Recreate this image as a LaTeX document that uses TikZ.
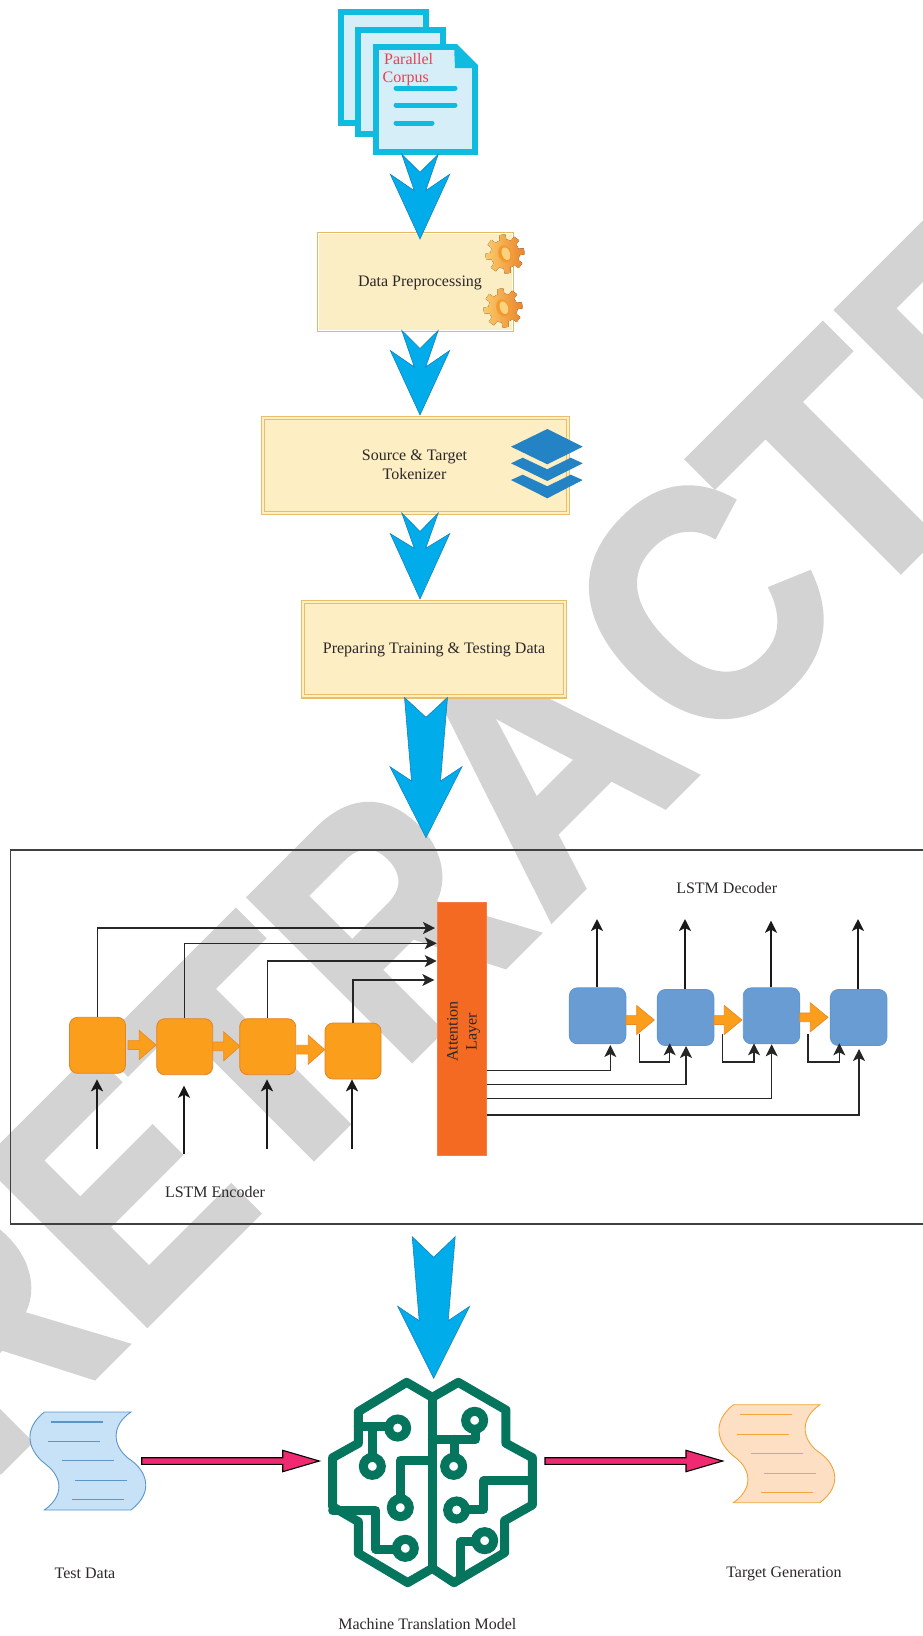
\documentclass[tikz,border=0pt]{standalone}
\usepackage{fontspec}
\setmainfont{Liberation Serif}
\newfontfamily\wmfont{Liberation Sans Bold}[FakeBold=2]
\usetikzlibrary{arrows.meta,calc,positioning}
\definecolor{wm}{HTML}{D3D3D3}
\definecolor{cy}{HTML}{0FBBDF}
\definecolor{cypale}{HTML}{D5EEF8}
\definecolor{blu}{HTML}{00ADEA}
\definecolor{blub}{HTML}{1481BE}
\definecolor{cream}{HTML}{FBEDC4}
\definecolor{creamd}{HTML}{FDEEC4}
\definecolor{creamb}{HTML}{E8BE68}
\definecolor{org}{HTML}{FA9E1C}
\definecolor{orgb}{HTML}{E0832B}
\definecolor{att}{HTML}{F56A22}
\definecolor{dec}{HTML}{6A9CD4}
\definecolor{decb}{HTML}{5E97D0}
\definecolor{grn}{HTML}{06755E}
\definecolor{pink}{HTML}{F02A72}
\definecolor{ink}{HTML}{2B2829}
\definecolor{lay}{HTML}{2483C5}
\definecolor{redt}{HTML}{EF3E52}
\definecolor{tfill}{HTML}{C7E2F6}
\definecolor{tline}{HTML}{5B96C8}
\definecolor{gfill}{HTML}{FDDFC3}
\definecolor{gline}{HTML}{F2A53B}
\definecolor{FBCB6B}{HTML}{FBCB6B}
\definecolor{EC842A}{HTML}{EC842A}
\definecolor{F39A2E}{HTML}{F39A2E}
\definecolor{FBD37F}{HTML}{FBD37F}
\tikzset{
  txt/.style={font=\fontsize{16}{19}\selectfont,text=ink,inner sep=0pt,align=center},
  bigarrow/.style={fill=blu,draw=blub,line width=.6pt,line join=miter},
  cellE/.style={draw=orgb,fill=org,line width=.8pt,rounded corners=8pt,minimum width=56pt,minimum height=56pt,inner sep=0pt},
  cellD/.style={draw=decb,fill=dec,line width=.8pt,rounded corners=8pt,minimum width=56.5pt,minimum height=56pt,inner sep=0pt},
  smallarrow/.style={fill=org,draw=orgb!70!org,line width=.7pt},
  thick arr/.style={draw=black!90,line width=2pt,-{Stealth[length=12pt,width=12pt,inset=3pt]}},
  thin arr/.style={draw=black!85,line width=1.1pt,-{Stealth[length=12pt,width=12pt,inset=3pt]}},
  pinkarrow/.style={fill=pink,draw=black,line width=1.1pt,line join=miter},
  boxd/.style={draw=creamb,line width=1.1pt,double=creamd,double distance=2pt,fill=creamd,inner sep=0pt},
  scrollline/.style={line width=1.4pt},
  brain/.style={draw=grn,line width=9pt,line join=round,line cap=round},
  page/.style={fill=cypale,draw=cy,line width=5.6pt,line join=miter},
  wmletter/.style={text=wm,inner sep=0pt,anchor=base west,font=\wmfont\fontsize{332}{332}\selectfont},
}
% watermark letter: name, position along the 45 degree baseline, x-scale, letter
\newcommand{\wmark}[4]{\node[wmletter,rotate=45,xscale=#3] (#1) at ({(1471+1.4142*(#2))/2},{(1471-1.4142*(#2))/2}) {#4};}
% swallow-tail block arrow
\newcommand{\swallow}[9]{% cx, ytop, ynotch, tailhalf, ypinch, pinchhalf, yhead, headhalf, ytip
  \draw[bigarrow] ({#1-#4},#2) -- (#1,#3) -- ({#1+#4},#2) -- ({#1+#6},#5) -- ({#1+#8},#7) -- (#1,#9) -- ({#1-#8},#7) -- ({#1-#6},#5) -- cycle;}
% small orange right arrow
\newcommand{\oarrow}[4]{% x0, xhead, x1, y
  \draw[smallarrow] (#1,{#4-4.4}) -- (#2,{#4-4.4}) -- (#2,{#4-14.5}) -- (#3,#4) -- (#2,{#4+14.5}) -- (#2,{#4+4.4}) -- (#1,{#4+4.4}) -- cycle;}
% pink right arrow
\newcommand{\parrow}[4]{%
  \draw[pinkarrow] (#1,{#4-3.3}) -- (#2,{#4-3.3}) -- (#2,{#4-10.7}) -- (#3,#4) -- (#2,{#4+10.7}) -- (#2,{#4+3.3}) -- (#1,{#4+3.3}) -- cycle;}
% gear icon
\newcommand{\gearicon}[2]{%
  \begin{scope}[shift={(#1,#2)}]
    \fill[rotate=10,left color=FBCB6B,right color=EC842A] plot[samples=97,domain=0:360] (\x:{(mod(\x+11,45)<22.5)?19.5:14.5}) -- cycle;
    \fill[F39A2E,rotate=20] (0,0) ellipse (6.5 and 9);
    \fill[FBD37F,rotate=20] (1,0) ellipse (4 and 6.5);
  \end{scope}}
% scroll
\newcommand{\scroll}[4]{% dx dy fill border
  \begin{scope}[shift={(#1,#2)},x=.3333pt,y=-.3333pt]
   \draw[fill=#3,draw=#4,line width=.9pt] (133,96) -- (393,96) .. controls (335,135) and (335,195) .. (385,235) .. controls (440,270) and (465,335) .. (393,390) -- (133,390) .. controls (190,350) and (190,295) .. (140,255) .. controls (85,215) and (65,150) .. (133,96) -- cycle;
   \draw[#4,scrollline] (153,126) -- (308,126) (145,185) -- (300,185) (186,242) -- (342,242) (225,302) -- (381,302) (216,359) -- (372,359);
  \end{scope}}
\begin{document}
\begin{tikzpicture}[x=1pt,y=-1pt]
\useasboundingbox (0,0) rectangle (923,1636);
\begin{scope}
\clip (0,0) rectangle (923,1636);
\wmark{wr}{-1058}{.84}{R}
\wmark{we}{-851}{.84}{E}
\wmark{wt}{-671.5}{.97}{T}
\wmark{wrr}{-476.6}{.84}{R}
\wmark{wa}{-267}{.91}{A}
\wmark{wc}{-39}{.89}{C}
\wmark{wtt}{158.5}{.97}{T}
\wmark{wee}{354}{.84}{E}
\end{scope}

% documents
\draw[page] (341,12) rectangle (426,123);
\draw[page] (358,30) rectangle (443,134);
\draw[page] (376,47) -- (456,47) -- (475,66) -- (475,152) -- (376,152) -- cycle;
\fill[cy] (454,44) -- (478,66) -- (478,68) -- (455,68) -- cycle;
\draw[cy,line width=5pt,line cap=round] (396,88) -- (455,88) (396,105) -- (455,105) (396,123) -- (432,123);
\node[txt,text=redt,anchor=west] (tpar) at (384,59) {Parallel};
\node[txt,text=redt,anchor=west] (tcor) at (382.5,79) {Corpus};

% pipeline boxes
\node[draw=creamb!90!brown,line width=.9pt,fill=cream,minimum width=196pt,minimum height=99pt,inner sep=0pt] (prep) at (415.5,281.8) {};
\draw[white,line width=.9pt] ([shift={(1.8,1.8)}]prep.north west) rectangle ([shift={(-1.8,-1.8)}]prep.south east);
\node[txt] (tprep) at (420,283) {Data Preprocessing};
\gearicon{505}{254}
\gearicon{503}{308}

\node[boxd,minimum width=305pt,minimum height=95pt] (tok) at (415.8,465.5) {};
\node[txt] (ttok) at (414.5,465) {Source \& Target\\Tokenizer};
\fill[lay] (511,446.7) -- (547.3,429) -- (582.7,446.7) -- (547.3,464.3) -- cycle;
\fill[lay] (511,463.3) -- (522.7,457.7) -- (547.3,469.3) -- (570.7,457.7) -- (582.7,463.3) -- (547.3,481) -- cycle;
\fill[lay] (511,480) -- (522.7,474.7) -- (547.3,486.3) -- (570.7,474.7) -- (582.7,480) -- (547.3,498.3) -- cycle;

\node[boxd,minimum width=262pt,minimum height=94.5pt] (prepd) at (433.7,649.2) {};
\node[txt] (tprepd) at (434,650) {Preparing Training \& Testing Data};

% block arrows
\swallow{420}{154.3}{172.3}{18.2}{190.7}{5.7}{174.3}{29.7}{239}
\swallow{420}{330.5}{348.5}{18.2}{367}{5.7}{350.5}{29.7}{415}
\swallow{420}{513}{531.5}{18.2}{548.3}{5.7}{533.7}{29.7}{599}
\swallow{426}{697.5}{717.3}{21.5}{781}{14.5}{766.7}{36}{837.7}
\swallow{433.7}{1236.7}{1257.3}{21.5}{1320.7}{14.5}{1306.3}{36}{1378.3}

% frame
\draw[black!75,line width=1.3pt] (923,850) -- (10.7,850) -- (10.7,1224) -- (923,1224);

% attention
\node[draw=att!85!red!80!white,fill=att,line width=.8pt,minimum width=49.4pt,minimum height=253pt,inner sep=0pt] (attn) at (462,1029.2) {};
\node[txt,rotate=90] (tattn) at (463.5,1031.5) {Attention\\Layer};

% encoder
\node[cellE] (e1) at (97.5,1045.3) {};
\node[cellE] (e2) at (184.7,1046.7) {};
\node[cellE] (e3) at (267.7,1046.7) {};
\node[cellE] (e4) at (353,1051) {};
\oarrow{128}{139.3}{156}{1045}
\oarrow{212.7}{223.7}{240}{1046.3}
\oarrow{296.7}{308.3}{324.7}{1049.7}
\coordinate (i1) at (97,1149); \coordinate (i1t) at (97,1079.3);
\coordinate (i2) at (184,1154); \coordinate (i2t) at (184,1085.7);
\coordinate (i3) at (267,1149); \coordinate (i3t) at (267,1079.3);
\coordinate (i4) at (352,1149); \coordinate (i4t) at (352,1079.3);
\foreach \k in {1,2,3,4}{\draw[thick arr] (i\k) -- (i\k t);}
\coordinate (a1) at (435,928);
\coordinate (a2) at (436.7,943.3);
\coordinate (a3) at (436.7,961);
\coordinate (a4) at (434.3,980);
\foreach \k in {1,2,3,4}{\draw[thin arr] (e\k.north) |- (a\k);}
\node[txt] (tenc) at (215,1191.7) {LSTM Encoder};

% decoder
\node[cellD] (d1) at (597.6,1015.8) {};
\node[cellD] (d2) at (685.6,1017.5) {};
\node[cellD] (d3) at (771.5,1015.8) {};
\node[cellD] (d4) at (858.6,1017.5) {};
\oarrow{626}{636.7}{654.3}{1020}
\oarrow{714}{724.3}{742}{1020}
\oarrow{799.7}{810.3}{828}{1017.3}
\coordinate (o1) at (597,919);
\coordinate (o2) at (685,919);
\coordinate (o3) at (771,920.7);
\coordinate (o4) at (858,919);
\draw[thick arr] (d1.north -| o1) -- (o1);
\draw[thick arr] (d2.north -| o2) -- (o2);
\draw[thick arr] (d3.north -| o3) -- (o3);
\draw[thick arr] (d4.north -| o4) -- (o4);
% attention outputs
\coordinate (b1) at (486.7,1070.3); \coordinate (c1) at (610.3,1045);
\coordinate (b2) at (486.7,1084.3); \coordinate (c2) at (686,1046);
\coordinate (b3) at (486.7,1098.3); \coordinate (c3) at (771.7,1044.3);
\coordinate (b4) at (486.7,1115);   \coordinate (c4) at (859,1049);
\foreach \k in {1,2,3,4}{\draw[thin arr] (b\k) -| (c\k);}
% small loops
\coordinate (s1) at (639.3,1034.3); \coordinate (r1) at (669.7,1043.3);
\coordinate (s2) at (722.7,1034.3); \coordinate (r2) at (754,1043.3);
\coordinate (s3) at (808,1034.3);   \coordinate (r3) at (839.3,1043.3);
\foreach \k in {1,2,3}{\draw[thin arr] (s\k) -- ++(0,27.7) -| (r\k);}
\node[txt] (tdec) at (726.7,888) {LSTM Decoder};

% scrolls and pink arrows
\scroll{0}{1380}{tfill}{tline}
\scroll{689}{1372.7}{gfill}{gline}
\parrow{141.7}{282.7}{319.3}{1461}
\parrow{545}{686}{722.7}{1461}
\node[txt] (ttest) at (85,1573.7) {Test Data};
\node[txt] (ttar) at (784,1574.3) {Target Generation};

% brain
\begin{scope}[shift={(300,1360)},x=.3333pt,y=-.3333pt]
 \draw[brain] (397,112) -- (320,67) -- (175,155) -- (175,250) -- (98,293) -- (98,440) -- (175,485) -- (175,580) -- (323,668) -- (397,625) -- (462,668) -- (614,578) -- (614,482) -- (697,435) -- (697,293) -- (618,250) -- (618,150) -- (475,67) -- cycle;
 \draw[brain] (397,112) -- (397,625);
 \draw[brain] (175,200) -- (258,200) (217,200) -- (217,290);
 \draw[brain] (301,405) -- (301,300) -- (397,300);
 \draw[brain] (98,452) -- (228,452) -- (228,568) -- (285,568);
 \draw[brain] (397,238) -- (527,238) -- (527,215) (465,238) -- (465,290);
 \draw[brain] (505,447) -- (552,447) -- (552,362) -- (697,362);
 \draw[brain] (520,545) -- (483,545) -- (483,650);
 \foreach \p in {(293,204),(217,319),(301,443),(316,565),(524,181),(461,319),(470,450),(554,542)}{
   \draw[draw=grn,line width=9pt,fill=white] \p circle (27);}
\end{scope}
\node[txt] (tmod) at (427.3,1624) {Machine Translation Model};
\end{tikzpicture}
\end{document}
